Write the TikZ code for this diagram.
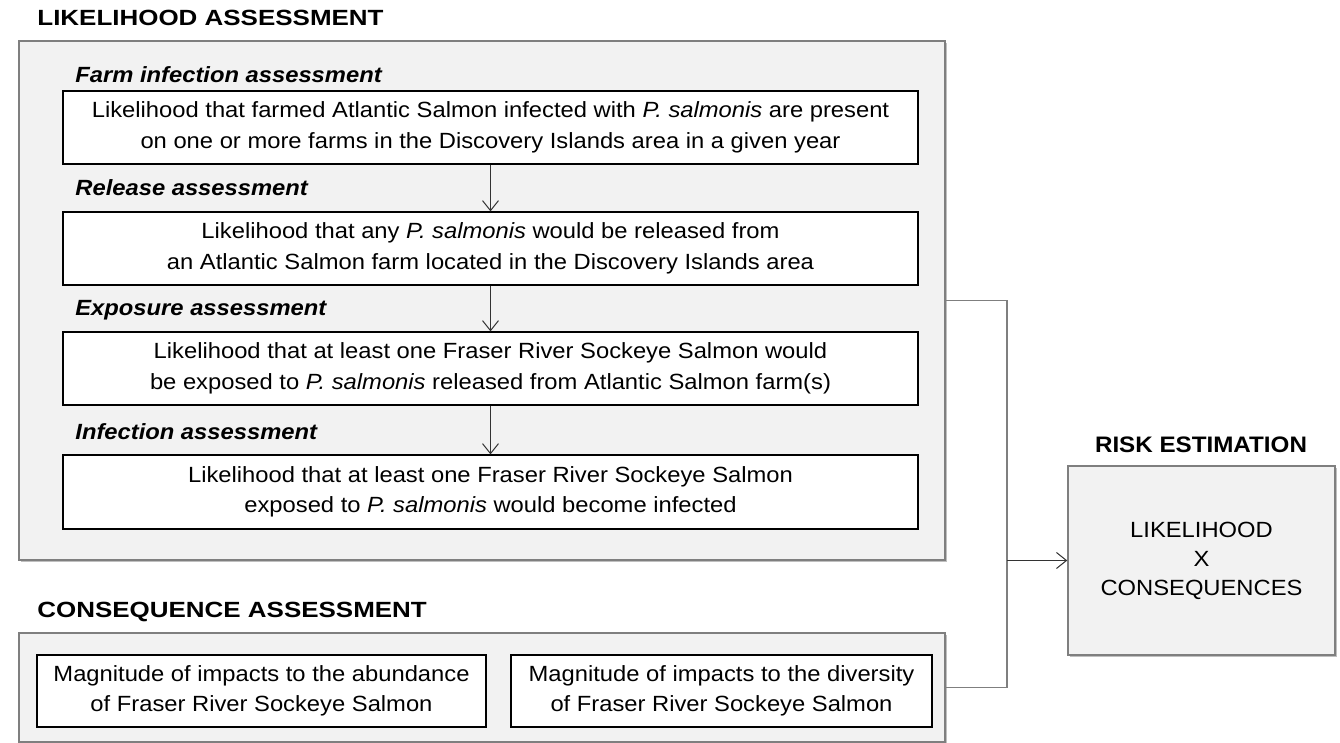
\documentclass[tikz,border=0pt]{standalone}
\usepackage{fontspec}
\setmainfont{Liberation Sans}
\newfontfamily\bodyfont{Liberation Sans}[FakeStretch=1.08]
\newfontfamily\headfont{Liberation Sans}[FakeStretch=1.18]
\usetikzlibrary{arrows.meta,shadows}
\definecolor{panelfill}{HTML}{F2F2F2}
\definecolor{panelline}{HTML}{7F7F7F}
\begin{document}
\begin{tikzpicture}[x=0.5pt,y=-0.5pt,
  outerbox/.style={draw=panelline, fill=panelfill, line width=0.75pt, inner sep=0pt,
    drop shadow={shadow xshift=1.2pt, shadow yshift=-1.2pt, fill=black, opacity=0.25}},
  innerbox/.style={draw=black, fill=white, line width=0.6pt, inner sep=0pt, align=center,
    font=\bodyfont\fontsize{11}{15.2}\selectfont},
  sublabel/.style={anchor=west, inner sep=0pt, font=\bodyfont\bfseries\itshape\fontsize{11}{13}\selectfont},
  headlabel/.style={inner sep=0pt, font=\headfont\bfseries\fontsize{11}{13}\selectfont},
  risklabel/.style={inner sep=0pt, font=\bodyfont\bfseries\fontsize{11.2}{13}\selectfont},
  arr/.style={-{Straight Barb[length=5pt,width=8pt]}, line width=0.5pt, draw=black!80},
  conn/.style={draw=panelline, line width=0.75pt}]
\useasboundingbox (0,0) rectangle (1340,743);

% Likelihood assessment
\node[outerbox, minimum width=463pt, minimum height=259.5pt] (lik) at (482,300.5) {};
\node[headlabel, anchor=west] (likt) at (37,18) {LIKELIHOOD ASSESSMENT};

\node[sublabel] (s1) at (75,75) {Farm infection assessment};
\node[innerbox, minimum width=427.5pt, minimum height=36.5pt] (b1) at (490.5,127.5)
  {Likelihood that farmed Atlantic Salmon infected with \textit{P. salmonis} are present\\on one or more farms in the Discovery Islands area in a given year};

\node[sublabel] (s2) at (75,188) {Release assessment};
\node[innerbox, minimum width=427.5pt, minimum height=36.5pt] (b2) at (490.5,248.5)
  {Likelihood that any \textit{P. salmonis} would be released from\\an Atlantic Salmon farm located in the Discovery Islands area};

\node[sublabel] (s3) at (75,310) {Exposure assessment};
\node[innerbox, minimum width=427.5pt, minimum height=36.5pt] (b3) at (490.5,368.5)
  {Likelihood that at least one Fraser River Sockeye Salmon would\\be exposed to \textit{P. salmonis} released from Atlantic Salmon farm(s)};

\node[sublabel] (s4) at (75,432) {Infection assessment};
\node[innerbox, minimum width=427.5pt, minimum height=37pt] (b4) at (490.5,492)
  {Likelihood that at least one Fraser River Sockeye Salmon\\exposed to \textit{P. salmonis} would become infected};

\draw[arr] (b1.south) -- (b2.north);
\draw[arr] (b2.south) -- (b3.north);
\draw[arr] (b3.south) -- (b4.north);

% Consequence assessment
\node[outerbox, minimum width=463pt, minimum height=54.5pt] (con) at (482,687.5) {};
\node[headlabel, anchor=west] (cont) at (37,612) {CONSEQUENCE ASSESSMENT};
\node[innerbox, minimum width=224.5pt, minimum height=36pt] (c1) at (261.5,691)
  {Magnitude of impacts to the abundance\\of Fraser River Sockeye Salmon};
\node[innerbox, minimum width=210.5pt, minimum height=36pt] (c2) at (721.5,691)
  {Magnitude of impacts to the diversity\\of Fraser River Sockeye Salmon};

% Risk estimation
\node[outerbox, minimum width=133.5pt, minimum height=94.5pt, align=center,
  font=\bodyfont\fontsize{11}{14.5}\selectfont] (risk) at (1201.5,560.5)
  {LIKELIHOOD\\X\\CONSEQUENCES};
\node[risklabel] (riskt) at (1201,445) {RISK ESTIMATION};

% Connectors
\coordinate (j) at (1007,560.5);
\draw[conn] (lik.east) -- (lik.east -| j) -- (con.east -| j) -- (con.east);
\draw[arr] (j) -- (risk.west);
\end{tikzpicture}
\end{document}
